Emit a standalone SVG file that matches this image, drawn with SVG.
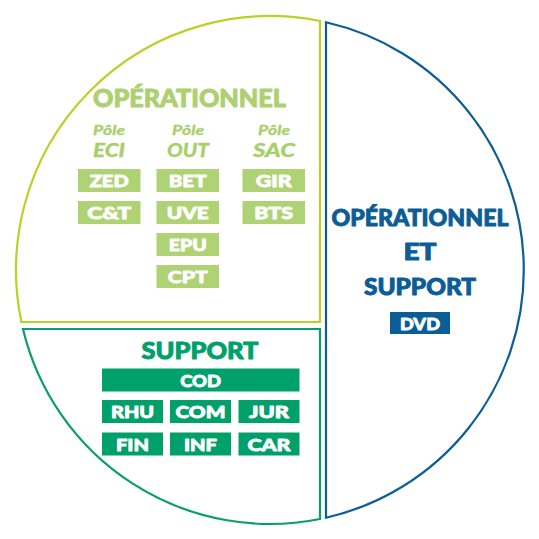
<svg xmlns="http://www.w3.org/2000/svg" width="539" height="539" viewBox="0 0 539 539">
<style>
.t{font-family:Lato,Inter,"Liberation Sans",sans-serif;font-weight:900;text-anchor:middle;stroke-linejoin:round}
.bx{fill:#afd274}
.gb{fill:#00a06b}
.bt{fill:#fff;font-size:17px;stroke:#fff;stroke-width:0.8px}
.pole{font-family:Lato,Inter,"Liberation Sans",sans-serif;font-style:italic;text-anchor:middle;fill:#a9cf6b;stroke:#a9cf6b;stroke-width:0.3px}
</style>
<rect width="539" height="539" fill="#fff"/>
<g id="operationnel">
<path d="M320,21 L320,322 L21.4,322 A254,254 0 0 1 320,21 Z" fill="none" stroke="#bcd125" stroke-width="2.2"/>
<text class="t" x="189.5" y="107" font-size="24" fill="#add071" stroke="#add071" stroke-width="0.9" textLength="193" lengthAdjust="spacingAndGlyphs">OPÉRATIONNEL</text>
<g class="pole">
<text x="109" y="134.5" font-size="13" font-weight="700" textLength="32" lengthAdjust="spacingAndGlyphs">Pôle</text>
<text x="109" y="156.5" font-size="19" font-weight="900" textLength="32" lengthAdjust="spacingAndGlyphs">ECI</text>
<text x="188" y="134.5" font-size="13" font-weight="700" textLength="32" lengthAdjust="spacingAndGlyphs">Pôle</text>
<text x="188" y="156.5" font-size="19" font-weight="900" textLength="42" lengthAdjust="spacingAndGlyphs">OUT</text>
<text x="274" y="134.5" font-size="13" font-weight="700" textLength="32" lengthAdjust="spacingAndGlyphs">Pôle</text>
<text x="274" y="156.5" font-size="19" font-weight="900" textLength="42" lengthAdjust="spacingAndGlyphs">SAC</text>
</g>
<g id="ZED"><rect class="bx" x="78" y="169" width="62.5" height="23"/><text class="t bt" x="109.2" y="187" textLength="39" lengthAdjust="spacingAndGlyphs">ZED</text></g>
<g id="CT"><rect class="bx" x="78" y="201" width="62.5" height="23"/><text class="t bt" x="109.2" y="219" textLength="44" lengthAdjust="spacingAndGlyphs">C&amp;T</text></g>
<g id="BET"><rect class="bx" x="156.5" y="169" width="62.5" height="23"/><text class="t bt" x="187.7" y="187" textLength="38" lengthAdjust="spacingAndGlyphs">BET</text></g>
<g id="UVE"><rect class="bx" x="156.5" y="201" width="62.5" height="23"/><text class="t bt" x="187.7" y="219" textLength="42" lengthAdjust="spacingAndGlyphs">UVE</text></g>
<g id="EPU"><rect class="bx" x="156.5" y="233" width="62.5" height="23"/><text class="t bt" x="187.7" y="251" textLength="38" lengthAdjust="spacingAndGlyphs">EPU</text></g>
<g id="CPT"><rect class="bx" x="156.5" y="265" width="62.5" height="23"/><text class="t bt" x="187.7" y="283" textLength="40" lengthAdjust="spacingAndGlyphs">CPT</text></g>
<g id="GIR"><rect class="bx" x="242.5" y="169" width="62.5" height="23"/><text class="t bt" x="273.7" y="187" textLength="36" lengthAdjust="spacingAndGlyphs">GIR</text></g>
<g id="BTS"><rect class="bx" x="242.5" y="201" width="62.5" height="23"/><text class="t bt" x="273.7" y="219" textLength="39" lengthAdjust="spacingAndGlyphs">BTS</text></g>
</g>
<g id="support">
<path d="M23,329 L320,329 L320,519 A254,254 0 0 1 23,329 Z" fill="none" stroke="#0a9e6e" stroke-width="2.2"/>
<text class="t" x="200" y="359" font-size="23" fill="#00a06b" stroke="#00a06b" stroke-width="0.9" textLength="117" lengthAdjust="spacingAndGlyphs">SUPPORT</text>
<g id="COD"><rect class="gb" x="102" y="368.5" width="197.5" height="23"/><text class="t bt" x="200.7" y="386.5" textLength="41" lengthAdjust="spacingAndGlyphs">COD</text></g>
<g id="RHU"><rect class="gb" x="102" y="400" width="61" height="23"/><text class="t bt" x="132.5" y="418" textLength="43" lengthAdjust="spacingAndGlyphs">RHU</text></g>
<g id="COM"><rect class="gb" x="170" y="400" width="61" height="23"/><text class="t bt" x="200.5" y="418" textLength="50" lengthAdjust="spacingAndGlyphs">COM</text></g>
<g id="JUR"><rect class="gb" x="238.5" y="400" width="61" height="23"/><text class="t bt" x="269" y="418" textLength="40" lengthAdjust="spacingAndGlyphs">JUR</text></g>
<g id="FIN"><rect class="gb" x="102" y="432.5" width="61" height="23"/><text class="t bt" x="132.5" y="450.5" textLength="33" lengthAdjust="spacingAndGlyphs">FIN</text></g>
<g id="INF"><rect class="gb" x="170" y="432.5" width="61" height="23"/><text class="t bt" x="200.5" y="450.5" textLength="33" lengthAdjust="spacingAndGlyphs">INF</text></g>
<g id="CAR"><rect class="gb" x="238.5" y="432.5" width="61" height="23"/><text class="t bt" x="269" y="450.5" textLength="43" lengthAdjust="spacingAndGlyphs">CAR</text></g>
</g>
<g id="operationnel-et-support">
<path d="M326,22.3 A254,254 0 0 1 326,517.7 Z" fill="none" stroke="#0b5d96" stroke-width="2.2"/>
<g fill="#0b5d96" stroke="#0b5d96" stroke-width="0.9">
<text class="t" x="420" y="226" font-size="22" textLength="177" lengthAdjust="spacingAndGlyphs">OPÉRATIONNEL</text>
<text class="t" x="420" y="260" font-size="22" textLength="33" lengthAdjust="spacingAndGlyphs">ET</text>
<text class="t" x="420" y="295" font-size="22" textLength="112" lengthAdjust="spacingAndGlyphs">SUPPORT</text>
</g>
<g id="DVD"><rect x="390" y="312" width="60" height="22" fill="#0b5d96"/><text class="t bt" x="420" y="329.5" textLength="40" lengthAdjust="spacingAndGlyphs">DVD</text></g>
</g>
<g id="connectors"/>
</svg>
